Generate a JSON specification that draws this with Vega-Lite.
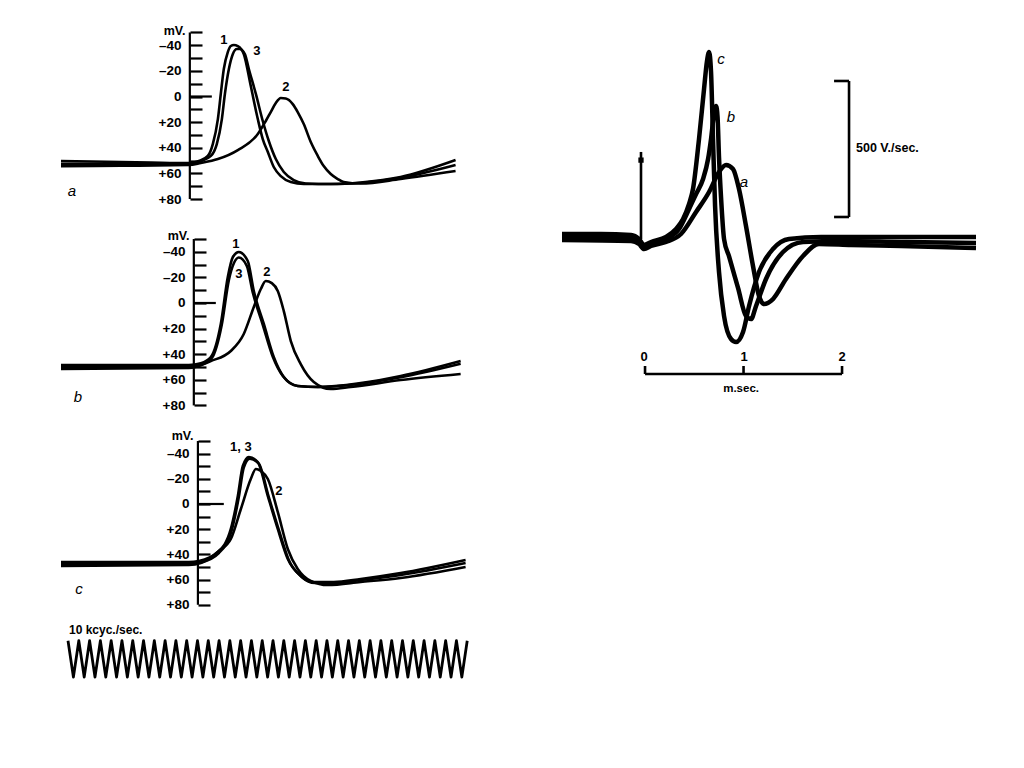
{
  "$schema": "https://vega.github.io/schema/vega-lite/v6.json",
  "padding": {"left": 55, "top": 19, "right": 0, "bottom": 0},
  "background": "white",
  "config": {
    "view": {"stroke": null},
    "text": {"font": "Liberation Sans", "fontWeight": "bold", "fontSize": 13, "color": "black", "baseline": "middle"},
    "line": {"color": "black", "strokeWidth": 2.6, "interpolate": "monotone"},
    "rule": {"color": "black", "strokeWidth": 2.2}
  },
  "datasets": {
    "a_lines": [
      {"curve":"1","t":0,"v":50.4},{"curve":"1","t":0.556,"v":51.1},{"curve":"1","t":0.833,"v":51.5},{"curve":"1","t":1.185,"v":51.9},{"curve":"1","t":1.278,"v":50.4},{"curve":"1","t":1.361,"v":46.4},{"curve":"1","t":1.407,"v":37.1},{"curve":"1","t":1.454,"v":17.6},{"curve":"1","t":1.481,"v":-2.0},{"curve":"1","t":1.509,"v":-21.5},{"curve":"1","t":1.546,"v":-34.7},{"curve":"1","t":1.574,"v":-39.4},{"curve":"1","t":1.602,"v":-40.2},{"curve":"1","t":1.639,"v":-39.4},{"curve":"1","t":1.694,"v":-33.2},{"curve":"1","t":1.759,"v":-8.2},{"curve":"1","t":1.824,"v":17.6},{"curve":"1","t":1.870,"v":33.2},{"curve":"1","t":1.917,"v":43.3},{"curve":"1","t":1.972,"v":55.0},{"curve":"1","t":2.037,"v":62.1},{"curve":"1","t":2.130,"v":66.7},{"curve":"1","t":2.250,"v":68.3},{"curve":"1","t":2.500,"v":68.3},{"curve":"1","t":2.778,"v":67.1},{"curve":"1","t":3.148,"v":62.8},{"curve":"1","t":3.657,"v":49.6},
      {"curve":"3","t":0,"v":52.7},{"curve":"3","t":0.556,"v":52.7},{"curve":"3","t":1.185,"v":52.7},{"curve":"3","t":1.296,"v":50.4},{"curve":"3","t":1.389,"v":46.4},{"curve":"3","t":1.444,"v":37.1},{"curve":"3","t":1.491,"v":17.6},{"curve":"3","t":1.519,"v":-2.0},{"curve":"3","t":1.556,"v":-21.5},{"curve":"3","t":1.593,"v":-33.2},{"curve":"3","t":1.630,"v":-37.1},{"curve":"3","t":1.657,"v":-37.1},{"curve":"3","t":1.704,"v":-33.2},{"curve":"3","t":1.741,"v":-21.5},{"curve":"3","t":1.806,"v":-2.0},{"curve":"3","t":1.870,"v":19.1},{"curve":"3","t":1.926,"v":34.7},{"curve":"3","t":1.991,"v":48.8},{"curve":"3","t":2.065,"v":58.9},{"curve":"3","t":2.157,"v":65.2},{"curve":"3","t":2.269,"v":67.9},{"curve":"3","t":2.500,"v":68.3},{"curve":"3","t":2.778,"v":67.5},{"curve":"3","t":3.148,"v":63.5},{"curve":"3","t":3.657,"v":53.5},
      {"curve":"2","t":0,"v":54.3},{"curve":"2","t":0.556,"v":54.0},{"curve":"2","t":1.185,"v":53.5},{"curve":"2","t":1.296,"v":51.9},{"curve":"2","t":1.454,"v":48.8},{"curve":"2","t":1.639,"v":41.8},{"curve":"2","t":1.824,"v":29.3},{"curve":"2","t":1.898,"v":19.1},{"curve":"2","t":1.944,"v":12.1},{"curve":"2","t":1.991,"v":5.1},{"curve":"2","t":2.037,"v":1.2},{"curve":"2","t":2.083,"v":1.6},{"curve":"2","t":2.148,"v":5.9},{"curve":"2","t":2.194,"v":12.1},{"curve":"2","t":2.250,"v":21.5},{"curve":"2","t":2.315,"v":35.5},{"curve":"2","t":2.380,"v":46.4},{"curve":"2","t":2.435,"v":54.3},{"curve":"2","t":2.500,"v":60.5},{"curve":"2","t":2.565,"v":64.4},{"curve":"2","t":2.620,"v":66.7},{"curve":"2","t":2.778,"v":67.9},{"curve":"2","t":3.148,"v":64.4},{"curve":"2","t":3.657,"v":58.2}
    ],
    "a_rules": [{"t":1.194,"t2":1.194,"v":-50,"v2":80},{"t":1.194,"t2":1.398,"v":0,"v2":0}],
    "a_text": [{"t":1.509,"v":-44.1,"label":"1"},{"t":1.815,"v":-35.5,"label":"3"},{"t":2.083,"v":-7.4,"label":"2"}],
    "a_tag": [{"t":0.102,"v":73.8,"label":"a"}],
    "b_lines": [
      {"curve":"1","t":0,"v":48.4},{"curve":"1","t":1.185,"v":48.4},{"curve":"1","t":1.296,"v":47.0},{"curve":"1","t":1.389,"v":42.2},{"curve":"1","t":1.481,"v":16.4},{"curve":"1","t":1.546,"v":-20.3},{"curve":"1","t":1.593,"v":-35.9},{"curve":"1","t":1.648,"v":-39.8},{"curve":"1","t":1.731,"v":-32.8},{"curve":"1","t":1.787,"v":-9.4},{"curve":"1","t":1.880,"v":16.4},{"curve":"1","t":1.972,"v":42.2},{"curve":"1","t":2.065,"v":57.8},{"curve":"1","t":2.194,"v":64.8},{"curve":"1","t":2.380,"v":65.6},{"curve":"1","t":2.778,"v":62.5},{"curve":"1","t":3.148,"v":57.0},{"curve":"1","t":3.704,"v":45.3},
      {"curve":"3","t":0,"v":50.0},{"curve":"3","t":1.185,"v":50.0},{"curve":"3","t":1.296,"v":48.4},{"curve":"3","t":1.398,"v":43.0},{"curve":"3","t":1.490,"v":17.0},{"curve":"3","t":1.556,"v":-18.0},{"curve":"3","t":1.602,"v":-31.0},{"curve":"3","t":1.648,"v":-35.5},{"curve":"3","t":1.722,"v":-29.0},{"curve":"3","t":1.778,"v":-8.0},{"curve":"3","t":1.870,"v":17.0},{"curve":"3","t":1.963,"v":42.0},{"curve":"3","t":2.056,"v":57.0},{"curve":"3","t":2.194,"v":64.8},{"curve":"3","t":2.380,"v":65.6},{"curve":"3","t":2.778,"v":63.0},{"curve":"3","t":3.148,"v":58.0},{"curve":"3","t":3.704,"v":47.5},
      {"curve":"2","t":0,"v":51.6},{"curve":"2","t":1.185,"v":50.8},{"curve":"2","t":1.389,"v":45.3},{"curve":"2","t":1.574,"v":37.5},{"curve":"2","t":1.694,"v":24.2},{"curve":"2","t":1.787,"v":3.1},{"curve":"2","t":1.852,"v":-10.9},{"curve":"2","t":1.898,"v":-17.2},{"curve":"2","t":1.954,"v":-15.5},{"curve":"2","t":2.009,"v":-9.4},{"curve":"2","t":2.065,"v":6.3},{"curve":"2","t":2.130,"v":29.7},{"curve":"2","t":2.222,"v":47.7},{"curve":"2","t":2.343,"v":61.7},{"curve":"2","t":2.500,"v":67.2},{"curve":"2","t":2.685,"v":65.6},{"curve":"2","t":3.148,"v":60.2},{"curve":"2","t":3.704,"v":55.5}
    ],
    "b_rules": [{"t":1.231,"t2":1.231,"v":-50,"v2":80},{"t":1.231,"t2":1.435,"v":0,"v2":0}],
    "b_text": [{"t":1.620,"v":-46.1,"label":"1"},{"t":1.648,"v":-22.7,"label":"3"},{"t":1.907,"v":-24.0,"label":"2"}],
    "b_tag": [{"t":0.157,"v":73.4,"label":"b"}],
    "c_lines": [
      {"curve":"1","t":0,"v":46.0},{"curve":"1","t":1.185,"v":46.0},{"curve":"1","t":1.278,"v":45.2},{"curve":"1","t":1.454,"v":38.1},{"curve":"1","t":1.574,"v":19.8},{"curve":"1","t":1.639,"v":-6.3},{"curve":"1","t":1.685,"v":-30.2},{"curve":"1","t":1.741,"v":-37.3},{"curve":"1","t":1.824,"v":-33.3},{"curve":"1","t":1.917,"v":-6.3},{"curve":"1","t":2.009,"v":19.8},{"curve":"1","t":2.102,"v":43.7},{"curve":"1","t":2.222,"v":57.1},{"curve":"1","t":2.343,"v":61.9},{"curve":"1","t":2.528,"v":61.9},{"curve":"1","t":2.778,"v":59.5},{"curve":"1","t":3.148,"v":54.8},{"curve":"1","t":3.750,"v":44.4},
      {"curve":"3","t":0,"v":47.6},{"curve":"3","t":1.185,"v":47.6},{"curve":"3","t":1.296,"v":46.4},{"curve":"3","t":1.463,"v":38.9},{"curve":"3","t":1.583,"v":20.6},{"curve":"3","t":1.648,"v":-5.5},{"curve":"3","t":1.694,"v":-29.0},{"curve":"3","t":1.750,"v":-36.0},{"curve":"3","t":1.833,"v":-32.0},{"curve":"3","t":1.926,"v":-5.5},{"curve":"3","t":2.019,"v":20.6},{"curve":"3","t":2.111,"v":44.4},{"curve":"3","t":2.231,"v":57.9},{"curve":"3","t":2.352,"v":62.7},{"curve":"3","t":2.528,"v":62.7},{"curve":"3","t":2.778,"v":60.3},{"curve":"3","t":3.148,"v":56.3},{"curve":"3","t":3.750,"v":46.8},
      {"curve":"2","t":0,"v":49.2},{"curve":"2","t":1.185,"v":48.4},{"curve":"2","t":1.296,"v":46.8},{"curve":"2","t":1.463,"v":37.3},{"curve":"2","t":1.574,"v":27.8},{"curve":"2","t":1.667,"v":4.0},{"curve":"2","t":1.759,"v":-19.8},{"curve":"2","t":1.806,"v":-27.8},{"curve":"2","t":1.852,"v":-26.2},{"curve":"2","t":1.917,"v":-19.8},{"curve":"2","t":2.009,"v":6.3},{"curve":"2","t":2.102,"v":35.7},{"curve":"2","t":2.194,"v":51.6},{"curve":"2","t":2.315,"v":61.1},{"curve":"2","t":2.472,"v":64.3},{"curve":"2","t":2.778,"v":61.9},{"curve":"2","t":3.148,"v":58.7},{"curve":"2","t":3.750,"v":50.0}
    ],
    "c_rules": [{"t":1.269,"t2":1.269,"v":-50,"v2":80},{"t":1.269,"t2":1.509,"v":0,"v2":0}],
    "c_text": [{"t":1.667,"v":-45.2,"label":"1, 3"},{"t":2.019,"v":-10.3,"label":"2"}],
    "c_tag": [{"t":0.167,"v":67.5,"label":"c"}],
    "osc": [
      {"t":0.065,"y":0.69},{"t":0.115,"y":0.17},{"t":0.165,"y":0.69},{"t":0.215,"y":0.17},{"t":0.265,"y":0.69},{"t":0.315,"y":0.17},{"t":0.365,"y":0.69},{"t":0.415,"y":0.17},{"t":0.465,"y":0.69},{"t":0.515,"y":0.17},
      {"t":0.565,"y":0.69},{"t":0.615,"y":0.17},{"t":0.665,"y":0.69},{"t":0.715,"y":0.17},{"t":0.765,"y":0.69},{"t":0.815,"y":0.17},{"t":0.865,"y":0.69},{"t":0.915,"y":0.17},{"t":0.965,"y":0.69},{"t":1.015,"y":0.17},
      {"t":1.065,"y":0.69},{"t":1.115,"y":0.17},{"t":1.165,"y":0.69},{"t":1.215,"y":0.17},{"t":1.265,"y":0.69},{"t":1.315,"y":0.17},{"t":1.365,"y":0.69},{"t":1.415,"y":0.17},{"t":1.465,"y":0.69},{"t":1.515,"y":0.17},
      {"t":1.565,"y":0.69},{"t":1.615,"y":0.17},{"t":1.665,"y":0.69},{"t":1.715,"y":0.17},{"t":1.765,"y":0.69},{"t":1.815,"y":0.17},{"t":1.865,"y":0.69},{"t":1.915,"y":0.17},{"t":1.965,"y":0.69},{"t":2.015,"y":0.17},
      {"t":2.065,"y":0.69},{"t":2.115,"y":0.17},{"t":2.165,"y":0.69},{"t":2.215,"y":0.17},{"t":2.265,"y":0.69},{"t":2.315,"y":0.17},{"t":2.365,"y":0.69},{"t":2.415,"y":0.17},{"t":2.465,"y":0.69},{"t":2.515,"y":0.17},
      {"t":2.565,"y":0.69},{"t":2.615,"y":0.17},{"t":2.665,"y":0.69},{"t":2.715,"y":0.17},{"t":2.765,"y":0.69},{"t":2.815,"y":0.17},{"t":2.865,"y":0.69},{"t":2.915,"y":0.17},{"t":2.965,"y":0.69},{"t":3.015,"y":0.17},
      {"t":3.065,"y":0.69},{"t":3.115,"y":0.17},{"t":3.165,"y":0.69},{"t":3.215,"y":0.17},{"t":3.265,"y":0.69},{"t":3.315,"y":0.17},{"t":3.365,"y":0.69},{"t":3.415,"y":0.17},{"t":3.465,"y":0.69},{"t":3.515,"y":0.17},
      {"t":3.565,"y":0.69},{"t":3.615,"y":0.17},{"t":3.665,"y":0.69},{"t":3.715,"y":0.17},{"t":3.765,"y":0.69}
    ],
    "osc_text": [{"t":0.074,"y":0.843,"label":"10 kcyc./sec."}],
    "r_lines": [
      {"curve":"c","t":-0.843,"v":18.4},{"curve":"c","t":-0.447,"v":18.4},{"curve":"c","t":-0.142,"v":14.7},{"curve":"c","t":-0.061,"v":0},{"curve":"c","t":-0.010,"v":-22.1},{"curve":"c","t":0.061,"v":-11.0},{"curve":"c","t":0.213,"v":7.4},{"curve":"c","t":0.315,"v":36.8},{"curve":"c","t":0.386,"v":73.5},{"curve":"c","t":0.447,"v":128.7},{"curve":"c","t":0.487,"v":183.8},{"curve":"c","t":0.548,"v":367.6},{"curve":"c","t":0.599,"v":551.5},{"curve":"c","t":0.629,"v":654.4},{"curve":"c","t":0.650,"v":687.5},{"curve":"c","t":0.670,"v":614.0},{"curve":"c","t":0.690,"v":367.6},{"curve":"c","t":0.711,"v":121.3},{"curve":"c","t":0.751,"v":-121.3},{"curve":"c","t":0.802,"v":-283.1},{"curve":"c","t":0.873,"v":-367.6},{"curve":"c","t":0.924,"v":-378.7},{"curve":"c","t":0.995,"v":-341.9},{"curve":"c","t":1.056,"v":-246.3},{"curve":"c","t":1.157,"v":-121.3},{"curve":"c","t":1.299,"v":-36.8},{"curve":"c","t":1.462,"v":0},{"curve":"c","t":1.787,"v":7.4},{"curve":"c","t":2.599,"v":7.4},{"curve":"c","t":3.360,"v":7.4},
      {"curve":"b","t":-0.843,"v":7.4},{"curve":"b","t":-0.142,"v":3.7},{"curve":"b","t":-0.061,"v":-7.4},{"curve":"b","t":-0.010,"v":-29.4},{"curve":"b","t":0.061,"v":-18.4},{"curve":"b","t":0.213,"v":0},{"curve":"b","t":0.345,"v":36.8},{"curve":"b","t":0.447,"v":110.3},{"curve":"b","t":0.518,"v":165.4},{"curve":"b","t":0.589,"v":220.6},{"curve":"b","t":0.640,"v":294.1},{"curve":"b","t":0.670,"v":367.6},{"curve":"b","t":0.700,"v":459.6},{"curve":"b","t":0.721,"v":489.0},{"curve":"b","t":0.736,"v":450.0},{"curve":"b","t":0.751,"v":300.0},{"curve":"b","t":0.772,"v":150.0},{"curve":"b","t":0.802,"v":0},{"curve":"b","t":0.853,"v":-64.0},{"curve":"b","t":0.944,"v":-180.0},{"curve":"b","t":1.025,"v":-283.1},{"curve":"b","t":1.076,"v":-294.1},{"curve":"b","t":1.127,"v":-246.3},{"curve":"b","t":1.228,"v":-147.1},{"curve":"b","t":1.401,"v":-47.8},{"curve":"b","t":1.604,"v":-11.0},{"curve":"b","t":1.990,"v":-7.4},{"curve":"b","t":2.599,"v":-11.0},{"curve":"b","t":3.360,"v":-14.7},
      {"curve":"a","t":-0.843,"v":-3.7},{"curve":"a","t":-0.142,"v":-7.4},{"curve":"a","t":-0.061,"v":-18.4},{"curve":"a","t":-0.010,"v":-36.8},{"curve":"a","t":0.061,"v":-25.7},{"curve":"a","t":0.213,"v":-11.0},{"curve":"a","t":0.365,"v":18.4},{"curve":"a","t":0.518,"v":99.3},{"curve":"a","t":0.650,"v":172.8},{"curve":"a","t":0.751,"v":246.3},{"curve":"a","t":0.822,"v":272.1},{"curve":"a","t":0.893,"v":257.4},{"curve":"a","t":0.954,"v":183.8},{"curve":"a","t":1.025,"v":47.8},{"curve":"a","t":1.096,"v":-99.3},{"curve":"a","t":1.157,"v":-209.6},{"curve":"a","t":1.208,"v":-239.0},{"curve":"a","t":1.299,"v":-220.6},{"curve":"a","t":1.431,"v":-147.1},{"curve":"a","t":1.604,"v":-62.5},{"curve":"a","t":1.766,"v":-18.4},{"curve":"a","t":2.091,"v":-22.1},{"curve":"a","t":2.599,"v":-25.7},{"curve":"a","t":3.360,"v":-33.1}
    ],
    "r_rules": [
      {"t":-0.041,"t2":-0.041,"v":0,"v2":320},
      {"t":2.071,"t2":2.071,"v":80.9,"v2":580.9},{"t":1.919,"t2":2.071,"v":580.9,"v2":580.9},{"t":1.919,"t2":2.071,"v":80.9,"v2":80.9},
      {"t":0,"t2":2,"v":-496.3,"v2":-496.3},{"t":0,"t2":0,"v":-496.3,"v2":-466.9},{"t":1,"t2":1,"v":-496.3,"v2":-466.9},{"t":2,"t2":2,"v":-496.3,"v2":-466.9}
    ],
    "r_knob": [{"t":-0.041,"v":290}],
    "r_text": [{"t":-0.01,"v":-433.8,"label":"0"},{"t":1.005,"v":-433.8,"label":"1"},{"t":2.0,"v":-433.8,"label":"2"}],
    "r_small": [{"t":0.975,"v":-551.5,"label":"m.sec."}],
    "r_unit": [{"t":2.142,"v":334.6,"label":"500 V./sec."}],
    "r_tag": [{"t":0.772,"v":661.8,"label":"c"},{"t":0.873,"v":448.5,"label":"b"},{"t":1.005,"v":209.6,"label":"a"}]
  },
  "hconcat": [
    {
      "vconcat": [
        {
          "width": 410, "height": 200,
          "encoding": {
            "x": {"field": "t", "type": "quantitative", "scale": {"domain": [0, 3.8], "nice": false, "zero": false}, "axis": null},
            "y": {"field": "v", "type": "quantitative", "scale": {"domain": [-60.5, 95.6], "reverse": true, "nice": false, "zero": false},
              "axis": {"orient": "left", "offset": -129, "values": [-50,-40,-30,-20,-10,0,10,20,30,40,50,60,70,80], "domain": false, "grid": false,
                "tickSize": -12, "tickWidth": 2.2, "tickColor": "black", "labelPadding": 21,
                "labelExpr": "datum.value % 20 === 0 ? (datum.value > 0 ? '+' + datum.value : (datum.value < 0 ? '–' + abs(datum.value) : '0')) : ''",
                "labelFont": "Liberation Sans", "labelFontWeight": "bold", "labelFontSize": 13.5, "labelColor": "black",
                "title": "mV.", "titleAngle": 0, "titleX": -5, "titleY": 11, "titleAlign": "right", "titleBaseline": "middle",
                "titleFont": "Liberation Sans", "titleFontWeight": "bold", "titleFontSize": 12.5, "titleColor": "black"}}
          },
          "layer": [
            {"data": {"name": "a_lines"}, "mark": {"type": "line"}, "encoding": {"detail": {"field": "curve"}}},
            {"data": {"name": "a_rules"}, "mark": {"type": "rule"}, "encoding": {"x2": {"field": "t2"}, "y2": {"field": "v2"}}},
            {"data": {"name": "a_text"}, "mark": {"type": "text"}, "encoding": {"text": {"field": "label"}}},
            {"data": {"name": "a_tag"}, "mark": {"type": "text", "fontStyle": "italic", "fontWeight": "normal", "fontSize": 15}, "encoding": {"text": {"field": "label"}}}
          ]
        },
        {
          "width": 410, "height": 205,
          "encoding": {
            "x": {"field": "t", "type": "quantitative", "scale": {"domain": [0, 3.8], "nice": false, "zero": false}, "axis": null},
            "y": {"field": "v", "type": "quantitative", "scale": {"domain": [-65.6, 94.5], "reverse": true, "nice": false, "zero": false},
              "axis": {"orient": "left", "offset": -133, "values": [-50,-40,-30,-20,-10,0,10,20,30,40,50,60,70,80], "domain": false, "grid": false,
                "tickSize": -12, "tickWidth": 2.2, "tickColor": "black", "labelPadding": 21,
                "labelExpr": "datum.value % 20 === 0 ? (datum.value > 0 ? '+' + datum.value : (datum.value < 0 ? '–' + abs(datum.value) : '0')) : ''",
                "labelFont": "Liberation Sans", "labelFontWeight": "bold", "labelFontSize": 13.5, "labelColor": "black",
                "title": "mV.", "titleAngle": 0, "titleX": -5, "titleY": 16, "titleAlign": "right", "titleBaseline": "middle",
                "titleFont": "Liberation Sans", "titleFontWeight": "bold", "titleFontSize": 12.5, "titleColor": "black"}}
          },
          "layer": [
            {"data": {"name": "b_lines"}, "mark": {"type": "line"}, "encoding": {"detail": {"field": "curve"}}},
            {"data": {"name": "b_rules"}, "mark": {"type": "rule"}, "encoding": {"x2": {"field": "t2"}, "y2": {"field": "v2"}}},
            {"data": {"name": "b_text"}, "mark": {"type": "text"}, "encoding": {"text": {"field": "label"}}},
            {"data": {"name": "b_tag"}, "mark": {"type": "text", "fontStyle": "italic", "fontWeight": "normal", "fontSize": 15}, "encoding": {"text": {"field": "label"}}}
          ]
        },
        {
          "width": 410, "height": 195,
          "encoding": {
            "x": {"field": "t", "type": "quantitative", "scale": {"domain": [0, 3.8], "nice": false, "zero": false}, "axis": null},
            "y": {"field": "v", "type": "quantitative", "scale": {"domain": [-63.5, 91.3], "reverse": true, "nice": false, "zero": false},
              "axis": {"orient": "left", "offset": -137, "values": [-50,-40,-30,-20,-10,0,10,20,30,40,50,60,70,80], "domain": false, "grid": false,
                "tickSize": -12, "tickWidth": 2.2, "tickColor": "black", "labelPadding": 21,
                "labelExpr": "datum.value % 20 === 0 ? (datum.value > 0 ? '+' + datum.value : (datum.value < 0 ? '–' + abs(datum.value) : '0')) : ''",
                "labelFont": "Liberation Sans", "labelFontWeight": "bold", "labelFontSize": 13.5, "labelColor": "black",
                "title": "mV.", "titleAngle": 0, "titleX": -5, "titleY": 11, "titleAlign": "right", "titleBaseline": "middle",
                "titleFont": "Liberation Sans", "titleFontWeight": "bold", "titleFontSize": 12.5, "titleColor": "black"}}
          },
          "layer": [
            {"data": {"name": "c_lines"}, "mark": {"type": "line"}, "encoding": {"detail": {"field": "curve"}}},
            {"data": {"name": "c_rules"}, "mark": {"type": "rule"}, "encoding": {"x2": {"field": "t2"}, "y2": {"field": "v2"}}},
            {"data": {"name": "c_text"}, "mark": {"type": "text"}, "encoding": {"text": {"field": "label"}}},
            {"data": {"name": "c_tag"}, "mark": {"type": "text", "fontStyle": "italic", "fontWeight": "normal", "fontSize": 15}, "encoding": {"text": {"field": "label"}}}
          ]
        },
        {
          "width": 410, "height": 70,
          "encoding": {
            "x": {"field": "t", "type": "quantitative", "scale": {"domain": [0, 3.8], "nice": false, "zero": false}, "axis": null},
            "y": {"field": "y", "type": "quantitative", "scale": {"domain": [0, 1], "nice": false, "zero": false}, "axis": null}
          },
          "layer": [
            {"data": {"name": "osc"}, "mark": {"type": "line", "interpolate": "linear", "strokeWidth": 2.8, "strokeJoin": "round"}, "encoding": {}},
            {"data": {"name": "osc_text"}, "mark": {"type": "text", "align": "left", "fontSize": 12}, "encoding": {"text": {"field": "label"}}}
          ]
        }
      ],
      "spacing": 0,
      "bounds": "flush"
    },
    {
      "width": 414, "height": 390,
      "encoding": {
        "x": {"field": "t", "type": "quantitative", "scale": {"domain": [-0.843, 3.36], "nice": false, "zero": false}, "axis": null},
        "y": {"field": "v", "type": "quantitative", "scale": {"domain": [-625, 808.8], "nice": false, "zero": false}, "axis": null}
      },
      "layer": [
        {"data": {"name": "r_lines"}, "mark": {"type": "line", "strokeWidth": 4.5}, "encoding": {"detail": {"field": "curve"}}},
        {"data": {"name": "r_rules"}, "mark": {"type": "rule", "strokeWidth": 2.6}, "encoding": {"x2": {"field": "t2"}, "y2": {"field": "v2"}}},
        {"data": {"name": "r_knob"}, "mark": {"type": "point", "shape": "square", "filled": true, "color": "black", "size": 28, "opacity": 1}, "encoding": {}},
        {"data": {"name": "r_text"}, "mark": {"type": "text", "fontSize": 13}, "encoding": {"text": {"field": "label"}}},
        {"data": {"name": "r_small"}, "mark": {"type": "text", "fontSize": 11.5}, "encoding": {"text": {"field": "label"}}},
        {"data": {"name": "r_unit"}, "mark": {"type": "text", "fontSize": 12.5, "align": "left"}, "encoding": {"text": {"field": "label"}}},
        {"data": {"name": "r_tag"}, "mark": {"type": "text", "fontStyle": "italic", "fontWeight": "normal", "fontSize": 15}, "encoding": {"text": {"field": "label"}}}
      ]
    }
  ],
  "spacing": 82
}
